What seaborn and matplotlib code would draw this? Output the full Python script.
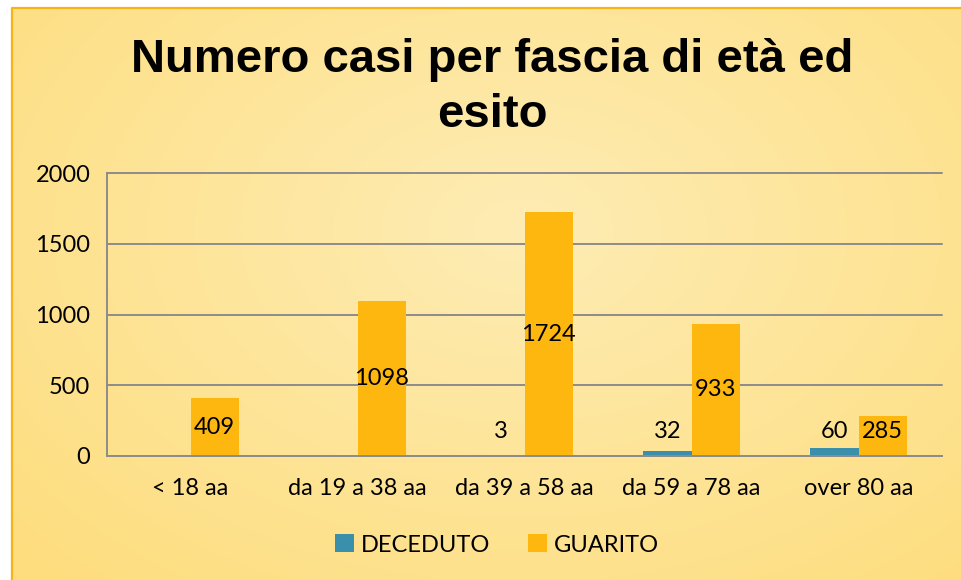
import numpy as np
import pandas as pd
import seaborn as sns
import matplotlib.pyplot as plt
from matplotlib.patches import Rectangle
from matplotlib.ticker import FixedLocator

# Dati del grafico
fasce = ["< 18 aa", "da 19 a 38 aa", "da 39 a 58 aa", "da 59 a 78 aa", "over 80 aa"]
deceduti = [0, 0, 3, 32, 60]
guariti = [409, 1098, 1724, 933, 285]
esiti = ["DECEDUTO", "GUARITO"]
colori = {"DECEDUTO": "#3A8FAB", "GUARITO": "#FDB70F"}

df = pd.DataFrame({
    "fascia": fasce * 2,
    "esito": [esiti[0]] * len(fasce) + [esiti[1]] * len(fasce),
    "casi": deceduti + guariti,
})

sns.set_theme(style="white")
plt.rcParams["font.family"] = ["Lato", "DejaVu Sans"]
plt.rcParams["text.color"] = "black"
plt.rcParams["xtick.color"] = "black"
plt.rcParams["ytick.color"] = "black"

fig = plt.figure(figsize=(9.61, 5.8), dpi=100)

# Sfondo sfumato della slide
bg = fig.add_axes([0, 0, 1, 1], zorder=-10)
yy, xx = np.mgrid[0:580, 0:961]
d = np.sqrt(((xx - 520) / 700.0) ** 2 + ((yy - 230) / 480.0) ** 2)
d = np.clip(d, 0, 1)
c_in = np.array([254, 236, 180]) / 255.0
c_out = np.array([253, 221, 125]) / 255.0
img = c_in[None, None, :] * (1 - d[..., None]) + c_out[None, None, :] * d[..., None]
bg.imshow(img, extent=[0, 961, 580, 0], aspect="auto")
bg.add_patch(Rectangle((0, 0), 11, 580, color="white"))
bg.add_patch(Rectangle((0, 0), 961, 7, color="white"))
bg.plot([11.5, 11.5, 961], [580, 7.5, 7.5], color="#F9B31A", lw=1.6)
bg.set_xlim(0, 961)
bg.set_ylim(580, 0)
bg.axis("off")

ax = fig.add_axes([107 / 961, 1 - 456 / 580, (942 - 107) / 961, (456 - 173) / 580])
ax.patch.set_alpha(0)

sns.barplot(data=df, x="fascia", y="casi", hue="esito", palette=colori,
            width=0.575, gap=0, saturation=1, linewidth=0, ax=ax, legend=True)

ax.set_ylim(0, 2000)
ax.set_xlim(-0.5, 4.5)
ax.set_yticks([0, 500, 1000, 1500, 2000])
ax.set_yticklabels(["0", "500", "1000", "1500", "2000"])
ax.grid(axis="y", color="#8C8C8C", lw=1.4)
for gl in ax.get_ygridlines():
    gl.set_clip_on(False)
ax.set_axisbelow(True)
for s in ["top", "right"]:
    ax.spines[s].set_visible(False)
for s in ["left", "bottom"]:
    ax.spines[s].set_color("#8C8C8C")
    ax.spines[s].set_linewidth(1.4)
ax.tick_params(axis="y", length=6, width=1.4, color="#8C8C8C", labelcolor="black",
               labelsize=17, pad=6)
ax.tick_params(axis="x", which="major", length=0, labelcolor="black", labelsize=17, pad=16)
ax.xaxis.set_minor_locator(FixedLocator([-0.5, 0.5, 1.5, 2.5, 3.5, 4.5]))
ax.tick_params(axis="x", which="minor", length=7, width=1.4, color="#8C8C8C")
ax.set_xlabel("")
ax.set_ylabel("")

# Etichette dei valori
for cont in ax.containers:
    for bar in cont:
        v = bar.get_height()
        if v <= 0:
            continue
        y = max(v / 2, 170)
        ax.text(bar.get_x() + bar.get_width() / 2, y, f"{int(v)}",
                ha="center", va="center", fontsize=17, color="black")

leg = ax.legend(loc="center", bbox_to_anchor=(497 / 961, 1 - 545 / 580),
                bbox_transform=fig.transFigure, ncol=2, frameon=False,
                fontsize=17, handlelength=0.8, handleheight=0.8, handletextpad=0.3,
                columnspacing=1.6)
for t in leg.get_texts():
    t.set_color("black")

fig.text(492 / 961, 1 - 60 / 580, "Numero casi per fascia di età ed",
         ha="center", va="center", fontsize=34, fontweight="bold", color="black",
         family=["Liberation Sans", "DejaVu Sans"])
fig.text(492 / 961, 1 - 115 / 580, "esito",
         ha="center", va="center", fontsize=34, fontweight="bold", color="black",
         family=["Liberation Sans", "DejaVu Sans"])

fig.savefig("out.png", dpi=100)
